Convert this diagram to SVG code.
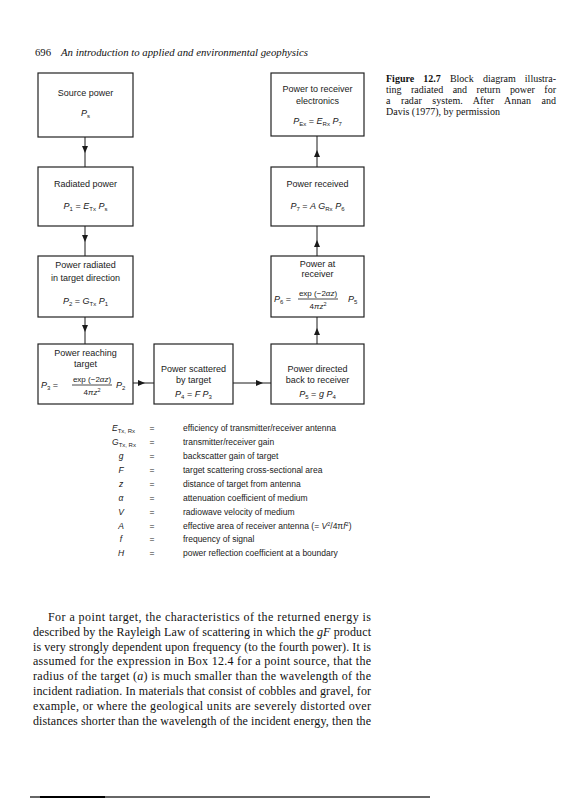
<svg xmlns="http://www.w3.org/2000/svg" width="564" height="800" viewBox="0 0 564 800">
<style>
  .bg{fill:#fff}
  .box{fill:#fff;stroke:#222;stroke-width:1.2}
  .t{font-family:"Liberation Sans",Arial,sans-serif;font-size:9px;fill:#1a1a1a}
  .eq{font-family:"Liberation Sans",Arial,sans-serif;font-size:9px;fill:#1a1a1a}
  .fr{font-family:"Liberation Sans",Arial,sans-serif;font-size:8px;fill:#1a1a1a}
  .i{font-style:italic}
  .sb{font-size:6px}
  .sp{font-size:5.5px}
  .bar{stroke:#1a1a1a;stroke-width:0.8}
  .lg{font-family:"Liberation Sans",Arial,sans-serif;font-size:8.5px;fill:#1a1a1a}
  .body{font-family:"Liberation Serif","Times New Roman",serif;font-size:12px;fill:#111}
  .cap{font-family:"Liberation Serif","Times New Roman",serif;font-size:10px;fill:#111}
  .hd{font-family:"Liberation Serif","Times New Roman",serif;font-size:10.7px;fill:#111}
  .conn{fill:none;stroke:#1a1a1a;stroke-width:1}
</style>
<defs>
  <marker id="ah" viewBox="0 0 7 6" refX="7" refY="3" markerWidth="7" markerHeight="6" markerUnits="userSpaceOnUse" orient="auto">
    <path d="M0,0 L7,3 L0,6 z" fill="#1a1a1a"/>
  </marker>
</defs>
<rect class="bg" x="0" y="0" width="564" height="800"/>

<g id="header">
  <text class="hd" x="35" y="56">696</text>
  <text class="hd i" x="61" y="56" textLength="247" lengthAdjust="spacingAndGlyphs">An introduction to applied and environmental geophysics</text>
</g>

<g id="caption">
  <text class="cap" x="386" y="82" word-spacing="6.6" textLength="170" lengthAdjust="spacing"><tspan font-weight="bold">Figure 12.7</tspan> Block diagram illustra-</text>
  <text class="cap" x="386" y="93" word-spacing="7" textLength="170" lengthAdjust="spacing">ting radiated and return power for</text>
  <text class="cap" x="386" y="104" word-spacing="8" textLength="170" lengthAdjust="spacing">a radar system. After Annan and</text>
  <text class="cap" x="386" y="115">Davis (1977), by permission</text>
</g>

<g id="connectors">
  <path class="conn" d="M85,137 L85,153 L85,167" marker-mid="url(#ah)"/>
  <path class="conn" d="M85,226 L85,242 L85,256" marker-mid="url(#ah)"/>
  <path class="conn" d="M85,317 L85,332 L85,344" marker-mid="url(#ah)"/>
  <path class="conn" d="M133,383 L145,383 L154,383" marker-mid="url(#ah)"/>
  <path class="conn" d="M233,383 L263,383 L271,383" marker-mid="url(#ah)"/>
  <path class="conn" d="M317,344 L317,328 L317,317" marker-mid="url(#ah)"/>
  <path class="conn" d="M317,256 L317,240 L317,226" marker-mid="url(#ah)"/>
  <path class="conn" d="M317,167 L317,150 L317,136" marker-mid="url(#ah)"/>
</g>

<g id="source-power">
  <rect class="box" x="38" y="73" width="95" height="64"/>
  <text class="t" x="85.5" y="96" text-anchor="middle">Source power</text>
  <text class="eq" x="85.5" y="116" text-anchor="middle"><tspan class="i">P</tspan><tspan class="sb" dy="2">s</tspan></text>
</g>

<g id="radiated-power">
  <rect class="box" x="38" y="167" width="95" height="59"/>
  <text class="t" x="85.5" y="187" text-anchor="middle">Radiated power</text>
  <text class="eq" x="85.5" y="209" text-anchor="middle"><tspan class="i">P</tspan><tspan class="sb" dy="2">1</tspan><tspan dy="-2"> = </tspan><tspan class="i">E</tspan><tspan class="sb" dy="2">Tx</tspan><tspan dy="-2"> </tspan><tspan class="i">P</tspan><tspan class="sb" dy="2">s</tspan></text>
</g>

<g id="power-radiated-target">
  <rect class="box" x="38" y="256" width="95" height="61"/>
  <text class="t" x="85.5" y="268" text-anchor="middle">Power radiated</text>
  <text class="t" x="85.5" y="281" text-anchor="middle">in target direction</text>
  <text class="eq" x="85.5" y="304" text-anchor="middle"><tspan class="i">P</tspan><tspan class="sb" dy="2">2</tspan><tspan dy="-2"> = </tspan><tspan class="i">G</tspan><tspan class="sb" dy="2">Tx</tspan><tspan dy="-2"> </tspan><tspan class="i">P</tspan><tspan class="sb" dy="2">1</tspan></text>
</g>

<g id="power-reaching-target">
  <rect class="box" x="38" y="344" width="95" height="60"/>
  <text class="t" x="85.5" y="356" text-anchor="middle">Power reaching</text>
  <text class="t" x="85.5" y="367" text-anchor="middle">target</text>
  <text class="eq" x="41" y="388"><tspan class="i">P</tspan><tspan class="sb" dy="2">3</tspan><tspan dy="-2"> =</tspan></text>
  <text class="fr" x="92" y="382" text-anchor="middle">exp (−2<tspan class="i">αz</tspan>)</text>
  <line class="bar" x1="72" y1="385" x2="112" y2="385"/>
  <text class="fr" x="92" y="395" text-anchor="middle">4<tspan class="i">πz</tspan><tspan class="sp" dy="-3">2</tspan></text>
  <text class="eq" x="116" y="388"><tspan class="i">P</tspan><tspan class="sb" dy="2">2</tspan></text>
</g>

<g id="power-scattered">
  <rect class="box" x="154" y="344" width="79" height="60"/>
  <text class="t" x="193.5" y="372" text-anchor="middle">Power scattered</text>
  <text class="t" x="193.5" y="383" text-anchor="middle">by target</text>
  <text class="eq" x="193.5" y="397" text-anchor="middle"><tspan class="i">P</tspan><tspan class="sb" dy="2">4</tspan><tspan dy="-2"> = </tspan><tspan class="i">F P</tspan><tspan class="sb" dy="2">3</tspan></text>
</g>

<g id="power-directed-back">
  <rect class="box" x="271" y="344" width="93" height="60"/>
  <text class="t" x="317.5" y="372" text-anchor="middle">Power directed</text>
  <text class="t" x="317.5" y="383" text-anchor="middle">back to receiver</text>
  <text class="eq" x="317.5" y="397" text-anchor="middle"><tspan class="i">P</tspan><tspan class="sb" dy="2">5</tspan><tspan dy="-2"> = </tspan><tspan class="i">g P</tspan><tspan class="sb" dy="2">4</tspan></text>
</g>

<g id="power-at-receiver">
  <rect class="box" x="271" y="256" width="93" height="61"/>
  <text class="t" x="317.5" y="267" text-anchor="middle">Power at</text>
  <text class="t" x="317.5" y="277" text-anchor="middle">receiver</text>
  <text class="eq" x="274" y="302"><tspan class="i">P</tspan><tspan class="sb" dy="2">6</tspan><tspan dy="-2"> =</tspan></text>
  <text class="fr" x="318" y="296" text-anchor="middle">exp (−2<tspan class="i">αz</tspan>)</text>
  <line class="bar" x1="298" y1="299" x2="338" y2="299"/>
  <text class="fr" x="318" y="309" text-anchor="middle">4<tspan class="i">πz</tspan><tspan class="sp" dy="-3">2</tspan></text>
  <text class="eq" x="348" y="302"><tspan class="i">P</tspan><tspan class="sb" dy="2">5</tspan></text>
</g>

<g id="power-received">
  <rect class="box" x="271" y="167" width="93" height="59"/>
  <text class="t" x="317.5" y="187" text-anchor="middle">Power received</text>
  <text class="eq" x="317.5" y="209" text-anchor="middle"><tspan class="i">P</tspan><tspan class="sb" dy="2">7</tspan><tspan dy="-2"> = </tspan><tspan class="i">A G</tspan><tspan class="sb" dy="2">Rx</tspan><tspan dy="-2"> </tspan><tspan class="i">P</tspan><tspan class="sb" dy="2">6</tspan></text>
</g>

<g id="power-to-electronics">
  <rect class="box" x="271" y="73" width="93" height="63"/>
  <text class="t" x="317.5" y="92" text-anchor="middle">Power to receiver</text>
  <text class="t" x="317.5" y="104" text-anchor="middle">electronics</text>
  <text class="eq" x="317.5" y="124" text-anchor="middle"><tspan class="i">P</tspan><tspan class="sb" dy="2">Ex</tspan><tspan dy="-2"> = </tspan><tspan class="i">E</tspan><tspan class="sb" dy="2">Rx</tspan><tspan dy="-2"> </tspan><tspan class="i">P</tspan><tspan class="sb" dy="2">7</tspan></text>
</g>

<g id="legend">
  <text class="lg" x="112" y="431"><tspan class="i">E</tspan><tspan class="sb" dy="2">Tx, Rx</tspan></text>
  <text class="lg" x="152" y="431" text-anchor="middle">=</text>
  <text class="lg" x="183" y="431">efficiency of transmitter/receiver antenna</text>

  <text class="lg" x="112" y="445"><tspan class="i">G</tspan><tspan class="sb" dy="2">Tx, Rx</tspan></text>
  <text class="lg" x="152" y="445" text-anchor="middle">=</text>
  <text class="lg" x="183" y="445">transmitter/receiver gain</text>

  <text class="lg i" x="121" y="459" text-anchor="middle">g</text>
  <text class="lg" x="152" y="459" text-anchor="middle">=</text>
  <text class="lg" x="183" y="459">backscatter gain of target</text>

  <text class="lg i" x="121" y="473" text-anchor="middle">F</text>
  <text class="lg" x="152" y="473" text-anchor="middle">=</text>
  <text class="lg" x="183" y="473">target scattering cross-sectional area</text>

  <text class="lg i" x="121" y="487" text-anchor="middle">z</text>
  <text class="lg" x="152" y="487" text-anchor="middle">=</text>
  <text class="lg" x="183" y="487">distance of target from antenna</text>

  <text class="lg i" x="121" y="500.5" text-anchor="middle">α</text>
  <text class="lg" x="152" y="500.5" text-anchor="middle">=</text>
  <text class="lg" x="183" y="500.5">attenuation coefficient of medium</text>

  <text class="lg i" x="121" y="514.5" text-anchor="middle">V</text>
  <text class="lg" x="152" y="514.5" text-anchor="middle">=</text>
  <text class="lg" x="183" y="514.5">radiowave velocity of medium</text>

  <text class="lg i" x="121" y="528.5" text-anchor="middle">A</text>
  <text class="lg" x="152" y="528.5" text-anchor="middle">=</text>
  <text class="lg" x="183" y="528.5">effective area of receiver antenna  (= <tspan class="i">V</tspan><tspan class="sp" dy="-3">2</tspan><tspan dy="3">/4π</tspan><tspan class="i">f</tspan><tspan class="sp" dy="-3">2</tspan><tspan dy="3">)</tspan></text>

  <text class="lg i" x="121" y="542" text-anchor="middle">f</text>
  <text class="lg" x="152" y="542" text-anchor="middle">=</text>
  <text class="lg" x="183" y="542">frequency of signal</text>

  <text class="lg i" x="121" y="556" text-anchor="middle">H</text>
  <text class="lg" x="152" y="556" text-anchor="middle">=</text>
  <text class="lg" x="183" y="556">power reflection coefficient at a boundary</text>
</g>

<g id="body-text">
  <text class="body" x="48" y="621" textLength="323" lengthAdjust="spacing">For a point target, the characteristics of the returned energy is</text>
  <text class="body" x="33" y="635.8" textLength="338" lengthAdjust="spacing">described by the Rayleigh Law of scattering in which the <tspan class="i">gF</tspan> product</text>
  <text class="body" x="33" y="650.6" textLength="338" lengthAdjust="spacing">is very strongly dependent upon frequency (to the fourth power). It is</text>
  <text class="body" x="33" y="665.4" textLength="338" lengthAdjust="spacing">assumed for the expression in Box 12.4 for a point source, that the</text>
  <text class="body" x="33" y="680.2" textLength="338" lengthAdjust="spacing">radius of the target (<tspan class="i">a</tspan>) is much smaller than the wavelength of the</text>
  <text class="body" x="33" y="695" textLength="338" lengthAdjust="spacing">incident radiation. In materials that consist of cobbles and gravel, for</text>
  <text class="body" x="33" y="709.8" textLength="338" lengthAdjust="spacing">example, or where the geological units are severely distorted over</text>
  <text class="body" x="33" y="724.6" textLength="338" lengthAdjust="spacing">distances shorter than the wavelength of the incident energy, then the</text>
</g>

<g id="page-rule">
  <line x1="30" y1="797" x2="430" y2="797" stroke="#333" stroke-width="1.4"/>
  <line x1="40" y1="797" x2="105" y2="797" stroke="#000" stroke-width="2.2"/>
</g>
</svg>
